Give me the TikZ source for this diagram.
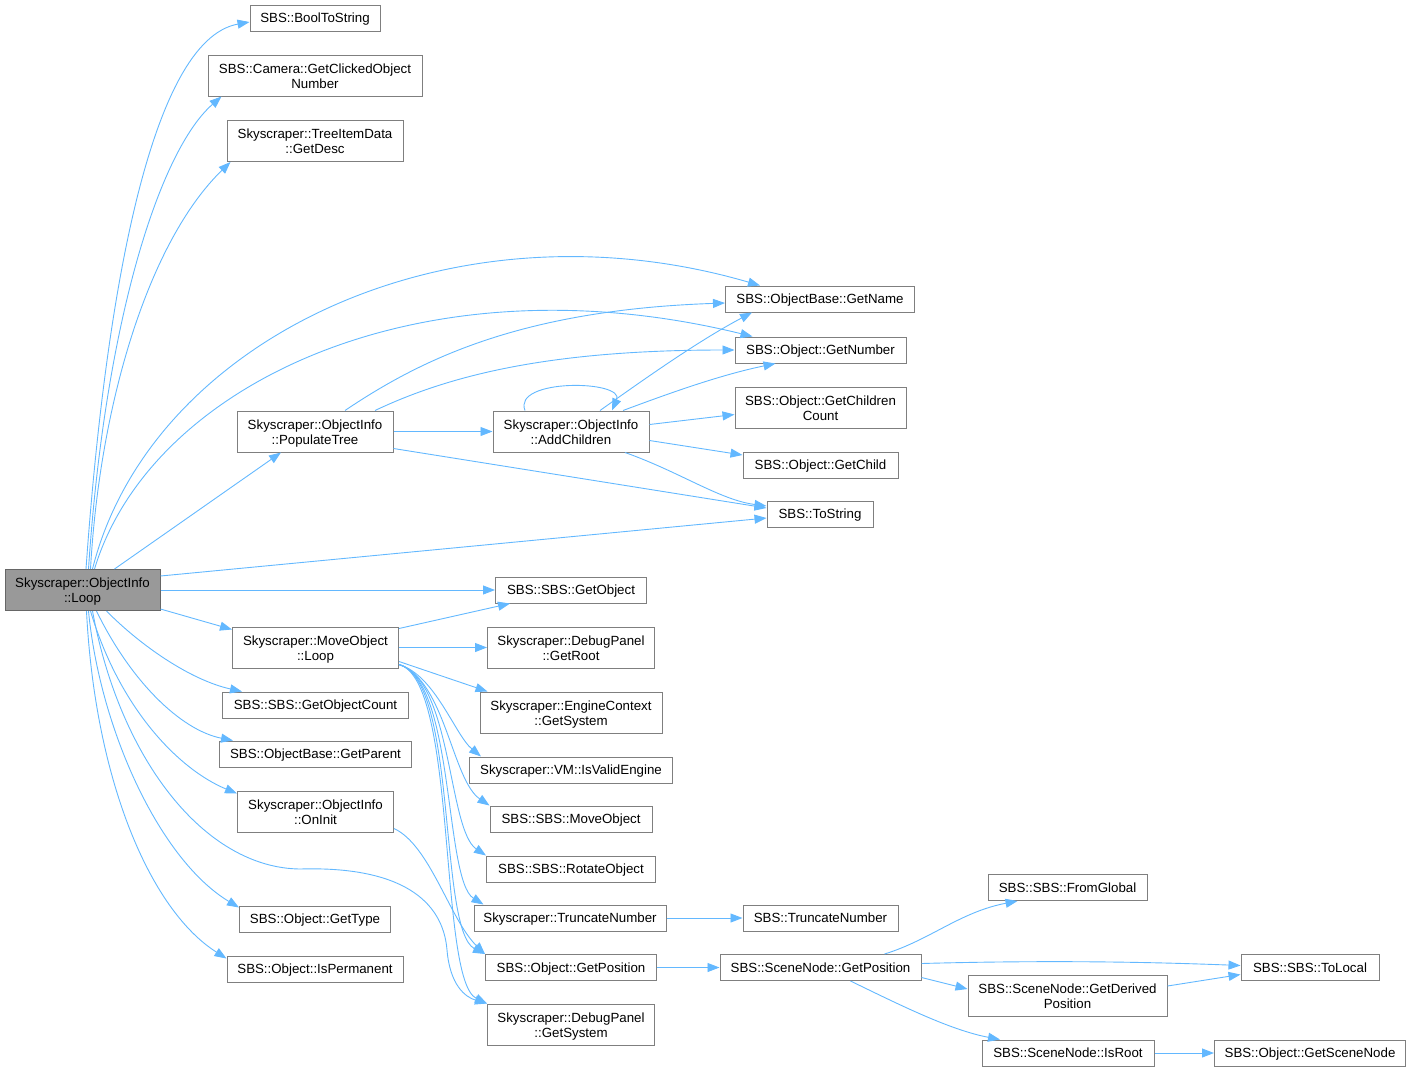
\documentclass[tikz,border=0pt]{standalone}
\usepackage{fontspec}
\setmainfont{Liberation Sans}
\usetikzlibrary{arrows.meta}
\definecolor{callblue}{HTML}{63B8FF}
\definecolor{boxgrey}{HTML}{7F7F7F}
\definecolor{rootgrey}{HTML}{999999}

\begin{document}
\begin{tikzpicture}[x=1pt,y=-1pt,
  fn/.style={draw=boxgrey,line width=1pt,fill=white,inner sep=0pt,minimum height=26,text height=12.3pt,text depth=2.8pt,font=\fontsize{13.3}{15}\selectfont},
  fntwo/.style={draw=boxgrey,line width=1pt,fill=white,inner sep=0pt,minimum height=41,align=center,text height=28.5pt,text depth=2.8pt,font=\fontsize{13.3}{15}\selectfont},
  calls/.style={draw=callblue,line width=0.9pt,-{Triangle[length=12pt,width=9pt]}}]
\useasboundingbox (0,0) rectangle (1412,1071);
\node [fntwo,fill=rootgrey,draw=boxgrey!80!black,minimum width=155] (root) at (82.5,590) {Skyscraper::ObjectInfo\\::Loop};
\node [fn,minimum width=130] (boolstr) at (315,18) {SBS::BoolToString};
\node [fntwo,minimum width=214] (clicked) at (315,75.5) {SBS::Camera::GetClickedObject\\Number};
\node [fntwo,minimum width=176] (desc) at (315,141) {Skyscraper::TreeItemData\\::GetDesc};
\node [fn,minimum width=189] (getname) at (820,299) {SBS::ObjectBase::GetName};
\node [fn,minimum width=171] (getnumber) at (820.5,350) {SBS::Object::GetNumber};
\node [fntwo,minimum width=171] (childcount) at (820.5,407.5) {SBS::Object::GetChildren\\Count};
\node [fn,minimum width=155] (getchild) at (820.5,465) {SBS::Object::GetChild};
\node [fn,minimum width=106] (tostring) at (820,514) {SBS::ToString};
\node [fntwo,minimum width=156] (populate) at (315,431.5) {Skyscraper::ObjectInfo\\::PopulateTree};
\node [fntwo,minimum width=156] (addchildren) at (571,431.5) {Skyscraper::ObjectInfo\\::AddChildren};
\node [fn,minimum width=151] (getobject) at (571,590) {SBS::SBS::GetObject};
\node [fntwo,minimum width=166] (moveloop) at (315.5,647.5) {Skyscraper::MoveObject\\::Loop};
\node [fntwo,minimum width=167] (getroot) at (571,647.5) {Skyscraper::DebugPanel\\::GetRoot};
\node [fntwo,minimum width=182] (engine) at (571,712.5) {Skyscraper::EngineContext\\::GetSystem};
\node [fn,minimum width=186] (objcount) at (315.5,705) {SBS::SBS::GetObjectCount};
\node [fn,minimum width=192] (getparent) at (315.5,754) {SBS::ObjectBase::GetParent};
\node [fn,minimum width=203] (validengine) at (571,770) {Skyscraper::VM::IsValidEngine};
\node [fntwo,minimum width=156] (oninit) at (315.5,811.5) {Skyscraper::ObjectInfo\\::OnInit};
\node [fn,minimum width=162] (sbsmove) at (571,819) {SBS::SBS::MoveObject};
\node [fn,minimum width=169] (rotate) at (571,869) {SBS::SBS::RotateObject};
\node [fn,minimum width=192] (trunc) at (570,918) {Skyscraper::TruncateNumber};
\node [fn,minimum width=155] (sbstrunc) at (820.5,918) {SBS::TruncateNumber};
\node [fn,minimum width=151] (gettype) at (315,919) {SBS::Object::GetType};
\node [fn,minimum width=176] (ispermanent) at (315,969) {SBS::Object::IsPermanent};
\node [fn,minimum width=171] (objpos) at (571,967.5) {SBS::Object::GetPosition};
\node [fntwo,minimum width=167] (dbgsys) at (571,1024.5) {Skyscraper::DebugPanel\\::GetSystem};
\node [fn,minimum width=201] (scenepos) at (820.5,967.5) {SBS::SceneNode::GetPosition};
\node [fn,minimum width=159] (fromglobal) at (1067.5,887.5) {SBS::SBS::FromGlobal};
\node [fn,minimum width=138] (tolocal) at (1310,967.5) {SBS::SBS::ToLocal};
\node [fntwo,minimum width=199] (derived) at (1067.5,996) {SBS::SceneNode::GetDerived\\Position};
\node [fn,minimum width=172] (isroot) at (1068,1053) {SBS::SceneNode::IsRoot};
\node [fn,minimum width=191] (getscenenode) at (1310,1053) {SBS::Object::GetSceneNode};
\draw [calls] ([xshift=3.5]root.north) .. controls (105,300) and (150,40) .. ([yshift=-4]boolstr.west);
\draw [calls] ([xshift=6]root.north) .. controls (105,320) and (160,150) .. ([xshift=14]clicked.south west);
\draw [calls] ([xshift=8]root.north) .. controls (100,400) and (150,240) .. ([xshift=4]desc.south west);
\draw [calls] ([xshift=10]root.north) .. controls (150,340) and (450,195) .. ([xshift=-60]getname.north);
\draw [calls] ([xshift=12]root.north) .. controls (150,385) and (420,255) .. ([xshift=-68]getnumber.north);
\draw [calls] ([xshift=32]root.north) -- ([xshift=-34]populate.south);
\draw [calls] ([yshift=14]root.east) -- ([yshift=-4]tostring.west);
\draw [calls] (root.east) -- (getobject.west);
\draw [calls] ([yshift=-19]root.east) -- ([yshift=-3]moveloop.north west);
\draw [calls] ([xshift=24]root.south) .. controls (140,645) and (190,680) .. ([xshift=20]objcount.north west);
\draw [calls] ([xshift=14]root.south) .. controls (130,680) and (180,730) .. ([xshift=14]getparent.north west);
\draw [calls] ([xshift=8]root.south) .. controls (120,710) and (180,770) .. ([yshift=-3]oninit.north west);
\draw [calls] ([xshift=10]root.south) .. controls (120,760) and (205,868) .. (300,869) .. controls (400,866) and (443,900) .. (447,950) .. controls (450,985) and (465,997) .. (dbgsys.north west);
\draw [calls] ([xshift=6]root.south) .. controls (100,730) and (160,860) .. ([yshift=-2]gettype.north west);
\draw [calls] ([xshift=4]root.south) .. controls (95,780) and (150,910) .. ([yshift=-3]ispermanent.north west);
\draw [calls] ([xshift=30]populate.north) .. controls (420,360) and (520,310) .. ([yshift=-4]getname.west);
\draw [calls] ([xshift=60]populate.north) .. controls (450,375) and (550,350) .. (getnumber.west);
\draw [calls] (populate.east) -- (addchildren.west);
\draw [calls] ([yshift=-17]populate.east) -- ([yshift=6]tostring.west);
\draw [calls] ([xshift=-46]addchildren.north) .. controls (512,378) and (625,380) .. ([xshift=41]addchildren.north);
\draw [calls] ([xshift=29]addchildren.north) .. controls (650,375) and (700,340) .. ([xshift=-68]getname.south);
\draw [calls] ([xshift=52]addchildren.north) .. controls (670,393) and (720,375) .. ([xshift=-45]getnumber.south);
\draw [calls] ([yshift=7]addchildren.east) -- ([yshift=-7]childcount.west);
\draw [calls] ([yshift=-9]addchildren.east) -- ([yshift=10]getchild.west);
\draw [calls] ([xshift=54]addchildren.south) .. controls (680,472) and (720,500) .. ([yshift=8]tostring.west);
\draw [calls] ([yshift=19]moveloop.east) -- ([xshift=-61]getobject.south);
\draw [calls] (moveloop.east) -- (getroot.west);
\draw [calls] ([yshift=-14]moveloop.east) -- ([xshift=8]engine.north west);
\draw [calls] ([yshift=-17]moveloop.east) .. controls (435,675) and (455,735) .. ([xshift=12]validengine.north west);
\draw [calls] ([yshift=-17]moveloop.east) .. controls (445,680) and (452,780) .. (sbsmove.north west);
\draw [calls] ([yshift=-17]moveloop.east) .. controls (452,680) and (448,830) .. (rotate.north west);
\draw [calls] ([yshift=-17]moveloop.east) .. controls (455,680) and (444,880) .. ([xshift=10]trunc.north west);
\draw [calls] ([yshift=-17]moveloop.east) .. controls (458,680) and (438,930) .. (objpos.north west);
\draw [calls] ([yshift=-17]moveloop.east) .. controls (458,680) and (438,980) .. (dbgsys.north west);
\draw [calls] ([yshift=-17]oninit.east) .. controls (430,845) and (450,920) .. (objpos.north west);
\draw [calls] (trunc.east) -- (sbstrunc.west);
\draw [calls] (objpos.east) -- (scenepos.west);
\draw [calls] ([xshift=64]scenepos.north) .. controls (930,940) and (960,912) .. ([xshift=-50]fromglobal.south);
\draw [calls] ([yshift=4]scenepos.east) .. controls (1050,960) and (1150,962) .. ([yshift=2]tolocal.west);
\draw [calls] ([yshift=-10]scenepos.east) -- ([yshift=7]derived.west);
\draw [calls] ([xshift=30]scenepos.south) .. controls (900,1005) and (950,1030) .. ([xshift=-68]isroot.north);
\draw [calls] ([yshift=10]derived.east) -- ([yshift=-7]tolocal.west);
\draw [calls] (isroot.east) -- (getscenenode.west);
\end{tikzpicture}
\end{document}
